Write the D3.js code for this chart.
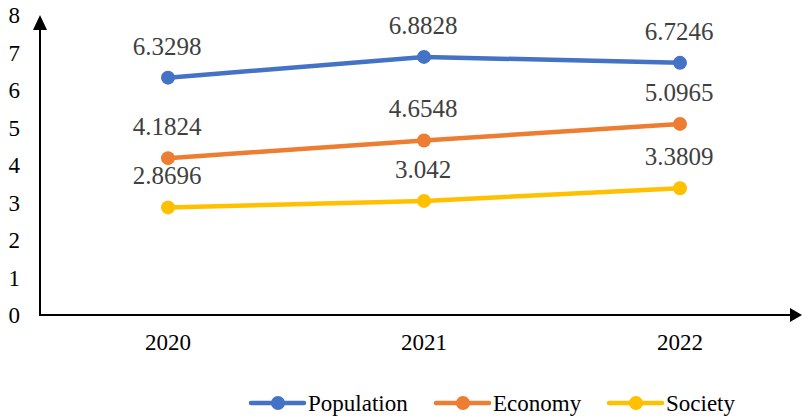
<!DOCTYPE html>
<html><head><meta charset="utf-8">
<script src="https://cdn.jsdelivr.net/npm/d3@7"></script>
<style>body{margin:0;background:#fff}svg{display:block}</style>
</head><body><svg id="c" width="802" height="419"></svg>
<script>
const years = ["2020","2021","2022"];
const population = [6.3298, 6.8828, 6.7246];
const economy = [4.1824, 4.6548, 5.0965];
const society = [2.8696, 3.042, 3.3809];
const seriesNames = ["Population","Economy","Society"];
const seriesColors = ["#4472C4","#ED7D31","#FFC000"];
const yTicks = [0,1,2,3,4,5,6,7,8];

const series = [population, economy, society].map((v,i)=>({name:seriesNames[i], color:seriesColors[i], values:v}));
const svg = d3.select("#c");
const FF = '"Liberation Serif"';
function font(sel, size){
  return sel.attr("font-family","Liberation Serif").attr("font-size",size)
    .style("font-family",FF,"important").style("font-size",size+"px","important");
}

const x = d3.scaleBand().domain(years).range([40, 808]);
const y = d3.scaleLinear().domain([0,8]).range([315, 15]);

// y tick labels
font(svg.append("g").selectAll("text").data(yTicks).join("text")
  .attr("x", 20).attr("y", d=>y(d)).attr("dy","0.35em")
  .attr("text-anchor","end").attr("fill","#000"), 23)
  .text(d=>d);

// x tick labels
font(svg.append("g").selectAll("text").data(years).join("text")
  .attr("x", d=>x(d)+x.bandwidth()/2).attr("y", 350)
  .attr("text-anchor","middle").attr("fill","#000"), 23)
  .text(d=>d);

// axes
svg.append("line").attr("x1",40).attr("x2",40).attr("y1",y(0)+1).attr("y2",y(8)+12)
  .attr("stroke","#000").attr("stroke-width",2);
svg.append("path").attr("d",`M40,${y(8)} L33,${y(8)+15} L47,${y(8)+15} Z`).attr("fill","#000");
svg.append("line").attr("x1",39).attr("x2",792).attr("y1",y(0)).attr("y2",y(0))
  .attr("stroke","#000").attr("stroke-width",2);
svg.append("path").attr("d",`M802,${y(0)} L790,${y(0)-7} L790,${y(0)+7} Z`).attr("fill","#000");

const line = d3.line().x((d,i)=>x(years[i])+x.bandwidth()/2).y(d=>y(d));
series.forEach(s=>{
  const g = svg.append("g");
  g.append("path").attr("d", line(s.values)).attr("fill","none").attr("stroke",s.color)
    .attr("stroke-width",4.5).attr("stroke-linecap","round");
  g.selectAll("circle").data(s.values).join("circle")
    .attr("cx",(d,i)=>x(years[i])+x.bandwidth()/2).attr("cy",d=>y(d)).attr("r",7).attr("fill",s.color);
  font(g.selectAll("text").data(s.values).join("text")
    .attr("x",(d,i)=>x(years[i])+x.bandwidth()/2-1).attr("y",d=>y(d)-23)
    .attr("text-anchor","middle").attr("fill","#404040"), 25)
    .text(d=>d);
});

// legend
const legX = [251, 436, 609];
const legY = 403;
series.forEach((s,i)=>{
  const g = svg.append("g").attr("transform",`translate(${legX[i]},${legY})`);
  g.append("line").attr("x1",0).attr("x2",53).attr("y1",0).attr("y2",0)
    .attr("stroke",s.color).attr("stroke-width",4.5).attr("stroke-linecap","round");
  g.append("circle").attr("cx",27).attr("cy",0).attr("r",7).attr("fill",s.color);
  font(g.append("text").attr("x",57).attr("y",0).attr("dy","0.35em")
    .attr("fill","#000"), 23).text(s.name);
});
</script></body></html>
